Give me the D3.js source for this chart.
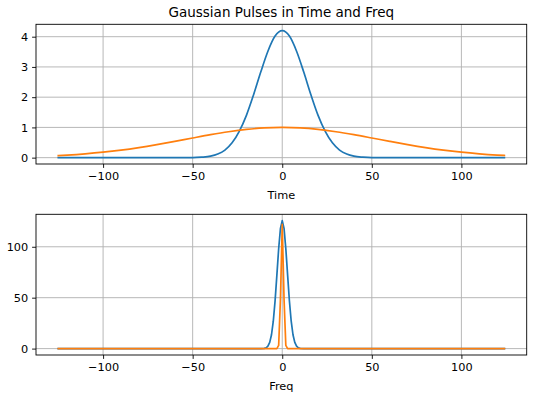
<!DOCTYPE html>
<html>
<head>
<meta charset="utf-8">
<script src="https://cdn.jsdelivr.net/npm/d3@7"></script>
<style>
  body { margin: 0; background: #fff; }
  svg { display: block; font-family: "DejaVu Sans", sans-serif; }
</style>
</head>
<body>
<div id="chart"></div>
<script>
// values
var timeTicks = [-100, -50, 0, 50, 100];
var timeYTicks = [0, 1, 2, 3, 4];
var freqYTicks = [0, 50, 100];

// narrow pulse in time (blue)
var timeNarrowX = [-125, -100, -80, -60, -50, -45, -40, -36, -32, -28, -24, -20, -16, -12, -8, -4, 0,
  4, 8, 12, 16, 20, 24, 28, 32, 36, 40, 45, 50, 60, 80, 100, 124];
var timeNarrowY = [0, 0, 0, 0, 0, 0.016, 0.05, 0.12, 0.25, 0.49, 0.87, 1.40, 2.08, 2.83, 3.52, 4.02, 4.20,
  4.02, 3.52, 2.83, 2.08, 1.40, 0.87, 0.49, 0.25, 0.12, 0.05, 0.016, 0, 0, 0, 0, 0];

// wide pulse in time (orange)
var timeWideX = [-125, -120, -110, -100, -90, -80, -70, -60, -50, -40, -30, -20, -10, 0,
  10, 20, 30, 40, 50, 60, 70, 80, 90, 100, 110, 120, 124];
var timeWideY = [0.069, 0.085, 0.126, 0.180, 0.249, 0.334, 0.432, 0.539, 0.651, 0.760, 0.857, 0.934, 0.983, 1.0,
  0.983, 0.934, 0.857, 0.760, 0.651, 0.539, 0.432, 0.334, 0.249, 0.180, 0.126, 0.085, 0.072];

// spectrum of the narrow pulse (blue)
var freqNarrowX = [-125, -60, -12, -10, -9, -8, -7, -6, -5, -4, -3, -2, -1, 0,
  1, 2, 3, 4, 5, 6, 7, 8, 9, 10, 12, 60, 124];
var freqNarrowY = [0, 0, 0, 0.2, 0.8, 2.4, 6.1, 13.6, 26.9, 46.8, 72.1, 98.1, 118.1, 125.6,
  118.1, 98.1, 72.1, 46.8, 26.9, 13.6, 6.1, 2.4, 0.8, 0.2, 0, 0, 0];

// spectrum of the wide pulse (orange)
var freqWideX = [-125, -60, -3, -2, -1, 0, 1, 2, 3, 60, 124];
var freqWideY = [0, 0, 0, 3.1, 48.6, 122, 48.6, 3.1, 0, 0, 0];

var width = 540, height = 394;
var blue = '#1f77b4', orange = '#ff7f0e';

var svg = d3.select('#chart').append('svg')
  .attr('width', width)
  .attr('height', height);

drawPanel({
  top: 24.3, bottom: 164,
  yDomain: [-0.21, 4.41],
  yTicks: timeYTicks,
  label: 'Time',
  title: 'Gaussian Pulses in Time and Freq',
  curve: d3.curveMonotoneX,
  series: [
    { x: timeNarrowX, y: timeNarrowY, color: blue },
    { x: timeWideX, y: timeWideY, color: orange },
  ],
});

drawPanel({
  top: 214.3, bottom: 355,
  yDomain: [-6.28, 131.88],
  yTicks: freqYTicks,
  label: 'Freq',
  curve: d3.curveLinear,
  series: [
    { x: freqNarrowX, y: freqNarrowY, color: blue },
    { x: freqWideX, y: freqWideY, color: orange },
  ],
});

function drawPanel(p) {
  var left = 36, right = 526.7;
  var x = d3.scaleLinear().domain([-137.45, 136.45]).range([left, right]);
  var y = d3.scaleLinear().domain(p.yDomain).range([p.bottom, p.top]);
  var g = svg.append('g');

  // grid
  g.selectAll('.gx').data(timeTicks).enter().append('line')
    .attr('x1', function (d) { return x(d); })
    .attr('x2', function (d) { return x(d); })
    .attr('y1', p.top).attr('y2', p.bottom)
    .attr('stroke', '#b0b0b0').attr('stroke-width', 0.9);
  g.selectAll('.gy').data(p.yTicks).enter().append('line')
    .attr('y1', function (d) { return y(d); })
    .attr('y2', function (d) { return y(d); })
    .attr('x1', left).attr('x2', right)
    .attr('stroke', '#b0b0b0').attr('stroke-width', 0.9);

  // lines
  var clipId = 'clip' + Math.round(p.top);
  svg.append('clipPath').attr('id', clipId).append('rect')
    .attr('x', left).attr('y', p.top)
    .attr('width', right - left).attr('height', p.bottom - p.top);
  p.series.forEach(function (s) {
    var pts = s.x.map(function (v, i) { return [v, s.y[i]]; });
    g.append('path')
      .attr('clip-path', 'url(#' + clipId + ')')
      .attr('d', d3.line()
        .x(function (d) { return x(d[0]); })
        .y(function (d) { return y(d[1]); })
        .curve(p.curve)(pts))
      .attr('fill', 'none')
      .attr('stroke', s.color)
      .attr('stroke-width', 1.7)
      .attr('stroke-linejoin', 'round')
      .attr('stroke-linecap', 'square');
  });

  // axes
  var ax = g.append('g')
    .attr('transform', 'translate(0,' + p.bottom + ')')
    .call(d3.axisBottom(x).tickValues(timeTicks).tickSize(3.9).tickPadding(3.9)
      .tickFormat(function (d) { return d < 0 ? '\u2212' + Math.abs(d) : d; }));
  var ay = g.append('g')
    .attr('transform', 'translate(' + left + ',0)')
    .call(d3.axisLeft(y).tickValues(p.yTicks).tickSize(3.9).tickPadding(3.9)
      .tickFormat(d3.format('d')));
  [ax, ay].forEach(function (a) {
    a.select('.domain').remove();
    a.selectAll('line').attr('stroke', '#000').attr('stroke-width', 0.9);
    a.selectAll('text').attr('fill', '#000')
      .style('font-family', '"DejaVu Sans", sans-serif')
      .style('font-size', '11.3px');
  });

  g.append('rect')
    .attr('x', left).attr('y', p.top)
    .attr('width', right - left).attr('height', p.bottom - p.top)
    .attr('fill', 'none').attr('stroke', '#000').attr('stroke-width', 0.9);

  g.append('text')
    .attr('x', (left + right) / 2)
    .attr('y', p.bottom + 35)
    .attr('text-anchor', 'middle')
    .style('font-size', '11.3px')
    .text(p.label);

  if (p.title) {
    g.append('text')
      .attr('x', (left + right) / 2)
      .attr('y', p.top - 6.9)
      .attr('text-anchor', 'middle')
      .style('font-size', '13.5px')
      .text(p.title);
  }
}
</script>
</body>
</html>
